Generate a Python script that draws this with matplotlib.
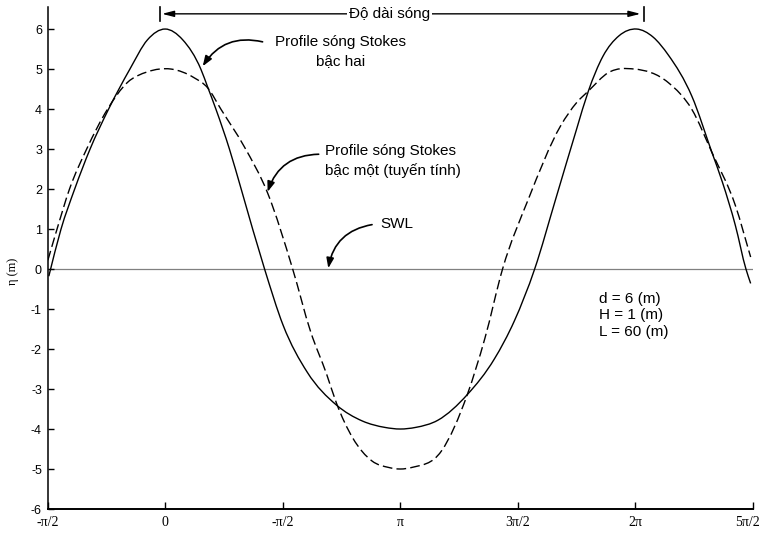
import numpy as np
import matplotlib
matplotlib.use("Agg")
import matplotlib.pyplot as plt
from matplotlib.path import Path
from matplotlib.patches import PathPatch
from matplotlib.transforms import ScaledTranslation

plt.rcParams["font.family"] = ["Liberation Sans", "DejaVu Sans"]

# Wave profiles: phase given in multiples of pi/2, surface elevation eta in metres
stokes2_phase = [-0.989, -0.886, -0.769, -0.638, -0.482, -0.301, -0.15, 0.0, 0.15,
                 0.305, 0.362, 0.433, 0.547, 0.647, 0.846, 1.003, 1.209, 1.457,
                 1.678, 1.87, 2.0, 2.13, 2.32, 2.57, 2.80, 2.97, 3.143, 3.322,
                 3.50, 3.60, 3.724, 3.86, 4.01, 4.15, 4.28, 4.48, 4.65,
                 4.74, 4.85, 4.94, 4.98]
stokes2_eta = [-0.18, 0.99, 2.00, 3.00, 3.99, 4.99, 5.73, 6.00, 5.73,
               4.99, 4.55, 3.99, 3.00, 2.00, 0.0, -1.40, -2.58, -3.40,
               -3.80, -3.96, -4.0, -3.96, -3.78, -3.14, -2.25, -1.30, 0.0, 1.75,
               3.50, 4.45, 5.32, 5.83, 6.00, 5.80, 5.35, 4.32, 2.92,
               2.17, 1.09, 0.0, -0.36]

linear_phase = [-0.997, -0.92, -0.813, -0.667, -0.491, -0.322, -0.15, 0.049, 0.248,
                0.362, 0.476, 0.675, 0.872, 1.085, 1.237, 1.375, 1.457, 1.595,
                1.76, 1.9, 2.0, 2.1, 2.35, 2.57, 2.72, 2.87, 3.09, 3.364, 3.50,
                3.60, 3.77, 3.99, 4.28, 4.48, 4.65, 4.85, 4.98]
linear_eta = [0.22, 0.99, 2.00, 3.00, 3.99, 4.66, 4.93, 5.00, 4.78,
              4.53, 3.99, 3.05, 1.90, 0.0, -1.56, -2.64, -3.35, -4.22,
              -4.80, -4.96, -5.0, -4.96, -4.55, -3.14, -1.73, 0.0, 1.75, 3.58, 4.16,
              4.45, 4.91, 5.00, 4.66, 3.99, 2.92, 1.59, 0.30]

x_tick_labels = ["-\u03c0/2", "0", "-\u03c0/2", "\u03c0", "3\u03c0/2", "2\u03c0", "5\u03c0/2"]
y_tick_values = list(range(-6, 7))
wave_params = ["d = 6 (m)", "H = 1 (m)", "L = 60 (m)"]
wavelength_marks = [-0.047, 4.075]     # phase of the two end bars (pi/2 units)
wavelength_tips = [-0.026, 4.043]      # arrow tips of the wavelength dimension

HALF_PI = np.pi / 2


def ph(v):
    """Convert a phase in pi/2 units to radians."""
    return np.asarray(v, dtype=float) * HALF_PI


def smooth_path(x, y):
    """Cubic Bezier path passing through every (x, y) sample."""
    x = np.asarray(x, float)
    y = np.asarray(y, float)
    h = np.diff(x)
    d = np.diff(y) / h
    m = np.empty_like(y)
    m[0], m[-1] = d[0], d[-1]
    m[1:-1] = (h[:-1] * d[1:] + h[1:] * d[:-1]) / (h[:-1] + h[1:])
    verts = [(x[0], y[0])]
    codes = [Path.MOVETO]
    for i in range(len(h)):
        verts += [(x[i] + h[i] / 3, y[i] + m[i] * h[i] / 3),
                  (x[i + 1] - h[i] / 3, y[i + 1] - m[i + 1] * h[i] / 3),
                  (x[i + 1], y[i + 1])]
        codes += [Path.CURVE4] * 3
    return Path(verts, codes)


fig = plt.figure(figsize=(7.64, 5.33), dpi=100)
ax = fig.add_axes([0.0622, 0.0450, 0.9234, 0.9418])

ax.axhline(0, color="#808080", lw=0.9, zorder=1)
ax.add_patch(PathPatch(smooth_path(ph(stokes2_phase), stokes2_eta), fill=False,
                       edgecolor="black", lw=1.0, zorder=2))
ax.add_patch(PathPatch(smooth_path(ph(linear_phase), linear_eta), fill=False,
                       edgecolor="black", lw=1.0, linestyle=(0, (7, 3)), zorder=2))

ax.set_xlim(-HALF_PI, 5 * HALF_PI)
ax.set_ylim(-6, 6.55)

for side in ("top", "right"):
    ax.spines[side].set_visible(False)
ax.spines["left"].set_linewidth(1.1)
ax.spines["bottom"].set_linewidth(1.4)

ax.set_xticks(ph(np.arange(-1, 6)))
ax.set_xticklabels(x_tick_labels, family=["Liberation Serif", "DejaVu Serif"],
                   fontsize=10)
ax.set_yticks(y_tick_values)
ax.set_yticklabels([str(v) for v in y_tick_values], fontsize=9)
ax.tick_params(axis="y", direction="in", length=4, width=1, pad=4)
ax.tick_params(axis="x", direction="in", length=5, width=1, pad=5)
last = ax.get_xticklabels()[-1]
last.set_transform(last.get_transform() + ScaledTranslation(-4 / 72, 0, fig.dpi_scale_trans))

fig.text(13 / 764, 1 - 271 / 533, "\u03b7 (m)", rotation=90, ha="center",
         va="center", fontsize=9, family=["Liberation Serif", "DejaVu Serif"])

TXT = 11

# wavelength dimension line
ax.annotate("", xy=(ph(wavelength_tips[0]), 6.38), xytext=(ph(wavelength_tips[1]), 6.38),
            arrowprops=dict(arrowstyle="<|-|>,head_length=0.7,head_width=0.18",
                            color="black", lw=1.0, shrinkA=0, shrinkB=0),
            annotation_clip=False)
for mark in wavelength_marks:
    ax.plot([ph(mark), ph(mark)], [6.21, 6.56], color="black", lw=1.2, clip_on=False)
ax.text(ph(1.909), 6.38, "Độ dài sóng", ha="center", va="center", fontsize=TXT,
        zorder=5, bbox=dict(facecolor="white", edgecolor="none", pad=1.5))

arrow_kw = dict(arrowstyle="-|>,head_length=0.6,head_width=0.22",
                color="black", lw=1.2, shrinkA=0, shrinkB=0)

ax.text(ph(1.49), 5.44, "Profile sóng Stokes\nbậc hai", ha="center", va="center",
        multialignment="center", fontsize=TXT, linespacing=1.45)
ax.annotate("", xy=(ph(0.32), 5.07), xytext=(ph(0.829), 5.68),
            arrowprops=dict(connectionstyle="arc3,rad=0.35", **arrow_kw))

ax.text(ph(1.364), 2.70, "Profile sóng Stokes\nbậc một (tuyến tính)", ha="left",
        va="center", fontsize=TXT, linespacing=1.45)
ax.annotate("", xy=(ph(0.872), 1.93), xytext=(ph(1.306), 2.87),
            arrowprops=dict(connectionstyle="arc3,rad=0.35", **arrow_kw))

ax.text(ph(1.835), 1.13, "SWL", ha="left", va="center", fontsize=TXT)
ax.annotate("", xy=(ph(1.388), 0.02), xytext=(ph(1.76), 1.11),
            arrowprops=dict(connectionstyle="arc3,rad=0.35", **arrow_kw))

ax.text(ph(3.694), -1.16, "\n".join(wave_params), ha="left", va="center",
        fontsize=TXT, linespacing=1.25)

fig.savefig("out.png", dpi=100)
